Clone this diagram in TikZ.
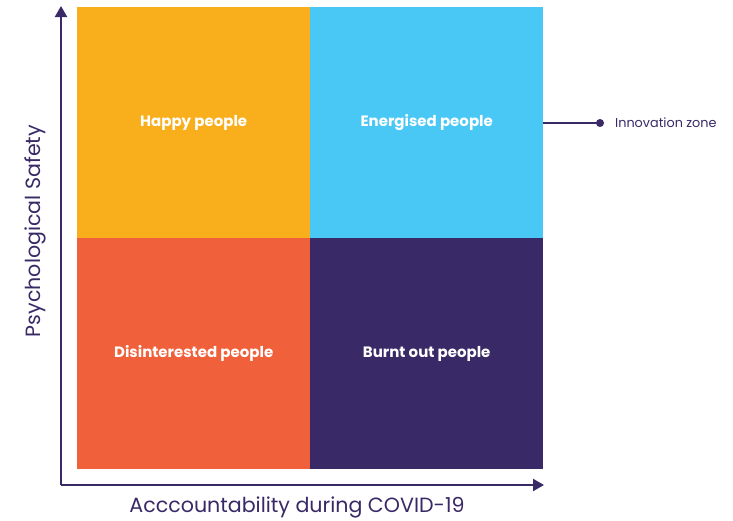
\documentclass[tikz,border=0pt]{standalone}
\usepackage{fontspec}
\setmainfont{Poppins}
\definecolor{qorange}{HTML}{F9AE1B}
\definecolor{qcyan}{HTML}{4AC8F5}
\definecolor{qred}{HTML}{F0603A}
\definecolor{qpurple}{HTML}{392966}
\usetikzlibrary{arrows.meta}
\begin{document}
\begin{tikzpicture}[x=1pt,y=-1pt,
  quad/.style={draw=none,minimum width=233pt,minimum height=231pt,inner sep=0pt,anchor=north west,text=white,font=\fontsize{15}{18}\selectfont\bfseries},
  axis/.style={draw=qpurple,line width=2.2pt,-{Triangle[length=11pt,width=12pt]}},
  axlabel/.style={text=qpurple,font=\fontsize{20.6}{24}\selectfont}]
\useasboundingbox (0,0) rectangle (733,520);
\node[quad,fill=qorange] (hp) at (77,7) {Happy people};
\node[quad,fill=qcyan] (ep) at (310,7) {Energised people};
\node[quad,fill=qred] (dp) at (77,238) {Disinterested people};
\node[quad,fill=qpurple] (bp) at (310,238) {Burnt out people};
\coordinate (o) at (61,485);
\coordinate (ytop) at (61,6);
\coordinate (xend) at (544,485);
\draw[axis] (o) -- (ytop);
\draw[axis] (o) -- (xend);
\node[axlabel] (xl) at (297,507) {Acccountability during COVID-19};
\node[axlabel,rotate=90] (yl) at (35,231) {Psychological Safety};
\coordinate (dot) at (600,123);
\draw[qpurple,line width=2pt] (ep.east |- dot) -- (dot);
\fill[qpurple] (dot) circle (4pt);
\node[anchor=west,text=qpurple,font=\fontsize{12.8}{15}\selectfont,inner sep=0pt] (iz) at (615,123) {Innovation zone};
\end{tikzpicture}
\end{document}
